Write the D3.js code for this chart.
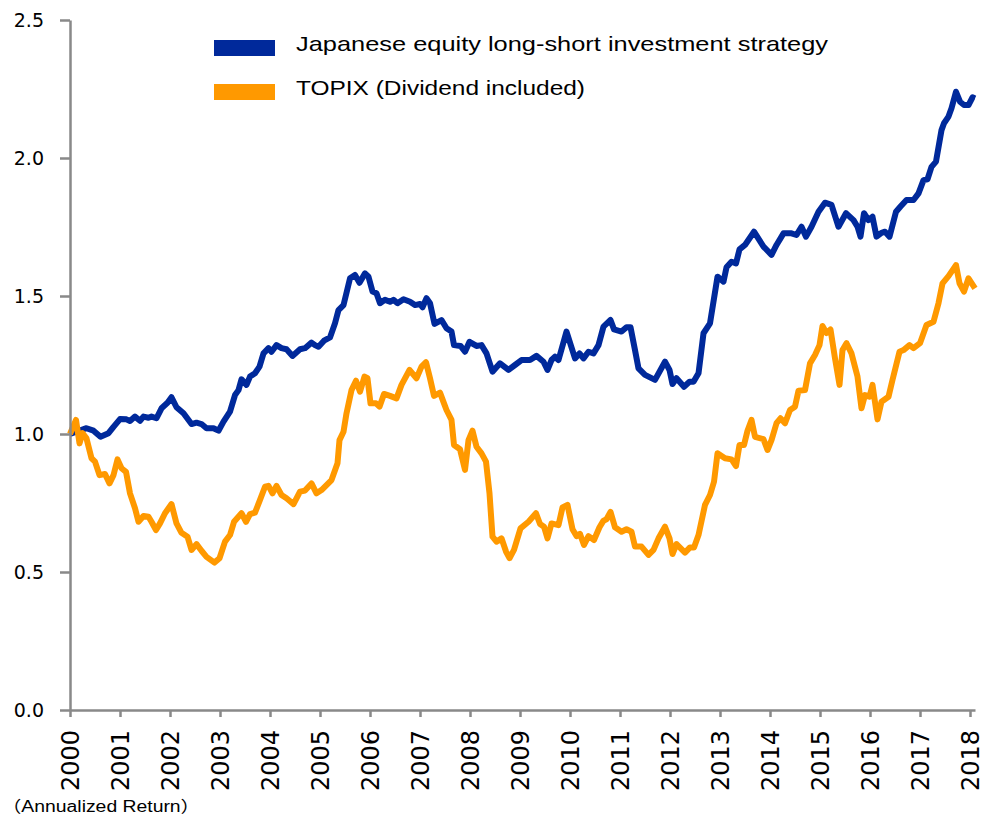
<!DOCTYPE html>
<html>
<head>
<meta charset="utf-8">
<script src="https://cdn.jsdelivr.net/npm/d3@7/dist/d3.min.js"></script>
<style>
    body { margin: 0; background: #fff; }
    .chart text { fill: #000; }
</style>
</head>
<body>
<div class="chart"></div>
<script>
const seriesNames = ['Japanese equity long-short investment strategy', 'TOPIX (Dividend included)']
const yearTicks = [2000, 2001, 2002, 2003, 2004, 2005, 2006, 2007, 2008, 2009,
                   2010, 2011, 2012, 2013, 2014, 2015, 2016, 2017, 2018]
const valueTicks = [0, 0.5, 1.0, 1.5, 2.0, 2.5]
const noteLabel = '（Annualized Return）'

// long-short strategy
const strategyYears = [
    2000.00, 2000.33, 2000.47, 2000.61, 2000.77, 2000.87,
    2001.00, 2001.13, 2001.20, 2001.30, 2001.40, 2001.47, 2001.57, 2001.63, 2001.73, 2001.83, 2001.95,
    2002.03, 2002.13, 2002.27, 2002.43, 2002.53, 2002.63, 2002.73, 2002.87, 2002.97,
    2003.07, 2003.20, 2003.30, 2003.37, 2003.43, 2003.53, 2003.60, 2003.70, 2003.79, 2003.87, 2003.97,
    2004.03, 2004.13, 2004.23, 2004.33, 2004.45, 2004.60, 2004.70, 2004.83, 2004.90, 2004.97,
    2005.08, 2005.20, 2005.30, 2005.37, 2005.47, 2005.60, 2005.70, 2005.79, 2005.90, 2005.97,
    2006.05, 2006.13, 2006.20, 2006.30, 2006.40, 2006.47, 2006.55, 2006.67, 2006.80, 2006.90,
    2007.00, 2007.05, 2007.13, 2007.20, 2007.29, 2007.43, 2007.53, 2007.63, 2007.68, 2007.81, 2007.90, 2007.99,
    2008.13, 2008.23, 2008.33, 2008.45, 2008.60, 2008.77, 2008.90,
    2009.03, 2009.20, 2009.33, 2009.47, 2009.55, 2009.63, 2009.70, 2009.77, 2009.93,
    2010.10, 2010.19, 2010.27, 2010.37, 2010.47, 2010.57, 2010.67, 2010.81, 2010.88,
    2011.03, 2011.13, 2011.21, 2011.30, 2011.37, 2011.50, 2011.70, 2011.90, 2011.99,
    2012.05, 2012.13, 2012.28, 2012.39, 2012.47, 2012.57, 2012.67, 2012.80, 2012.95,
    2013.07, 2013.13, 2013.23, 2013.32, 2013.39, 2013.50, 2013.68, 2013.87,
    2014.03, 2014.13, 2014.27, 2014.43, 2014.53, 2014.63, 2014.72, 2014.83, 2014.97,
    2015.10, 2015.23, 2015.37, 2015.52, 2015.67, 2015.75, 2015.81, 2015.88, 2015.97,
    2016.05, 2016.13, 2016.23, 2016.30, 2016.39, 2016.52, 2016.61, 2016.73, 2016.87, 2016.97,
    2017.07, 2017.15, 2017.23, 2017.32, 2017.43, 2017.48, 2017.57, 2017.63, 2017.72, 2017.80, 2017.88, 2017.97,
    2018.05, 2018.10
]
const strategyValues = [
    1.000, 1.021, 1.012, 0.990, 1.003, 1.026,
    1.054, 1.053, 1.047, 1.063, 1.048, 1.063, 1.059, 1.063, 1.057, 1.093, 1.113,
    1.133, 1.097, 1.075, 1.036, 1.041, 1.036, 1.021, 1.021, 1.012,
    1.045, 1.081, 1.141, 1.159, 1.198, 1.178, 1.208, 1.220, 1.244, 1.292, 1.311,
    1.298, 1.322, 1.311, 1.307, 1.283, 1.307, 1.311, 1.331, 1.322, 1.316,
    1.338, 1.350, 1.401, 1.449, 1.467, 1.564, 1.576, 1.548, 1.582, 1.570,
    1.516, 1.510, 1.474, 1.486, 1.479, 1.486, 1.474, 1.488, 1.479, 1.467,
    1.471, 1.459, 1.492, 1.474, 1.399, 1.413, 1.383, 1.371, 1.322, 1.319, 1.298, 1.334,
    1.319, 1.322, 1.292, 1.226, 1.256, 1.232, 1.250,
    1.268, 1.268, 1.283, 1.262, 1.232, 1.268, 1.280, 1.268, 1.371,
    1.274, 1.292, 1.274, 1.298, 1.292, 1.322, 1.389, 1.413, 1.379,
    1.371, 1.387, 1.387, 1.304, 1.238, 1.214, 1.196, 1.262, 1.232,
    1.181, 1.202, 1.171, 1.189, 1.189, 1.220, 1.365, 1.401, 1.570,
    1.552, 1.604, 1.624, 1.618, 1.669, 1.685, 1.733, 1.679,
    1.649, 1.685, 1.727, 1.727, 1.721, 1.751, 1.715, 1.751, 1.805,
    1.838, 1.830, 1.751, 1.800, 1.775, 1.751, 1.715, 1.800, 1.775,
    1.787, 1.715, 1.729, 1.733, 1.715, 1.805, 1.824, 1.848, 1.848, 1.872,
    1.920, 1.923, 1.968, 1.987, 2.101, 2.126, 2.150, 2.180, 2.240, 2.204, 2.192, 2.192,
    2.220, 2.216
]

// TOPIX with dividends
const topixYears = [
    2000.00, 2000.12, 2000.19, 2000.25, 2000.33, 2000.43, 2000.50, 2000.59, 2000.70, 2000.79, 2000.87, 2000.95,
    2001.03, 2001.12, 2001.20, 2001.30, 2001.37, 2001.47, 2001.57, 2001.63, 2001.72, 2001.80, 2001.90,
    2002.03, 2002.13, 2002.23, 2002.35, 2002.43, 2002.53, 2002.63, 2002.73, 2002.89, 2002.99,
    2003.10, 2003.20, 2003.28, 2003.43, 2003.52, 2003.60, 2003.70, 2003.80, 2003.90, 2003.97,
    2004.05, 2004.13, 2004.23, 2004.33, 2004.47, 2004.60, 2004.70, 2004.83, 2004.93,
    2005.03, 2005.23, 2005.35, 2005.39, 2005.47, 2005.53, 2005.63, 2005.72, 2005.80, 2005.89, 2005.95,
    2006.01, 2006.12, 2006.19, 2006.28, 2006.40, 2006.53, 2006.63, 2006.79, 2006.93,
    2007.03, 2007.12, 2007.20, 2007.28, 2007.40, 2007.48, 2007.53, 2007.63, 2007.68, 2007.80, 2007.90, 2007.97,
    2008.05, 2008.13, 2008.23, 2008.32, 2008.39, 2008.45, 2008.53, 2008.63, 2008.72, 2008.79, 2008.88,
    2009.01, 2009.17, 2009.32, 2009.40, 2009.48, 2009.55, 2009.63, 2009.77, 2009.85, 2009.95,
    2010.05, 2010.13, 2010.20, 2010.28, 2010.37, 2010.48, 2010.59, 2010.67, 2010.73, 2010.81, 2010.90,
    2011.03, 2011.13, 2011.23, 2011.30, 2011.43, 2011.57, 2011.67, 2011.77, 2011.90, 2011.99,
    2012.05, 2012.13, 2012.30, 2012.40, 2012.48, 2012.57, 2012.70, 2012.80, 2012.88, 2012.95,
    2013.10, 2013.23, 2013.32, 2013.39, 2013.48, 2013.55, 2013.63, 2013.70, 2013.87, 2013.95,
    2014.03, 2014.13, 2014.21, 2014.30, 2014.40, 2014.50, 2014.57, 2014.70, 2014.80, 2014.90, 2014.99,
    2015.05, 2015.13, 2015.21, 2015.30, 2015.39, 2015.45, 2015.53, 2015.63, 2015.75, 2015.83, 2015.90, 2015.99,
    2016.05, 2016.15, 2016.23, 2016.37, 2016.45, 2016.59, 2016.67, 2016.79, 2016.87,
    2017.00, 2017.13, 2017.27, 2017.37, 2017.45, 2017.57, 2017.72, 2017.79, 2017.88, 2017.97,
    2018.10
]
const topixValues = [
    1.000, 1.051, 0.966, 1.003, 0.984, 0.912, 0.900, 0.851, 0.855, 0.821, 0.851, 0.908,
    0.876, 0.863, 0.785, 0.731, 0.682, 0.703, 0.700, 0.682, 0.652, 0.676, 0.713,
    0.746, 0.676, 0.642, 0.628, 0.580, 0.601, 0.577, 0.555, 0.534, 0.550,
    0.610, 0.634, 0.682, 0.713, 0.682, 0.710, 0.715, 0.761, 0.809, 0.812,
    0.785, 0.812, 0.779, 0.767, 0.746, 0.791, 0.795, 0.821, 0.785,
    0.797, 0.833, 0.894, 0.978, 1.008, 1.075, 1.159, 1.193, 1.153, 1.208, 1.202,
    1.111, 1.111, 1.099, 1.145, 1.138, 1.129, 1.178, 1.232, 1.202,
    1.244, 1.260, 1.202, 1.138, 1.150, 1.111, 1.087, 1.051, 0.960, 0.945, 0.870, 0.978,
    1.012, 0.954, 0.930, 0.900, 0.785, 0.628, 0.610, 0.622, 0.574, 0.550, 0.580,
    0.658, 0.682, 0.713, 0.674, 0.664, 0.622, 0.676, 0.670, 0.734, 0.743,
    0.655, 0.630, 0.638, 0.598, 0.630, 0.616, 0.662, 0.686, 0.691, 0.718, 0.662,
    0.646, 0.655, 0.646, 0.592, 0.592, 0.562, 0.580, 0.622, 0.664, 0.622,
    0.565, 0.601, 0.570, 0.589, 0.589, 0.634, 0.743, 0.779, 0.827, 0.930,
    0.912, 0.908, 0.884, 0.960, 0.960, 1.012, 1.051, 0.990, 0.981, 0.942,
    0.978, 1.039, 1.057, 1.039, 1.087, 1.099, 1.157, 1.159, 1.256, 1.286, 1.322,
    1.391, 1.366, 1.379, 1.274, 1.178, 1.304, 1.329, 1.292, 1.208, 1.093, 1.141, 1.135,
    1.178, 1.053, 1.117, 1.135, 1.196, 1.298, 1.304, 1.322, 1.311,
    1.329, 1.395, 1.407, 1.474, 1.546, 1.572, 1.612, 1.546, 1.516, 1.564,
    1.528
]

class LineChart {

    constructor() {
        this.fullWidth = 986
        this.fullHeight = 815
        this.margin = {top: 20, right: 11, bottom: 105, left: 70}
        this.width = this.fullWidth - this.margin.left - this.margin.right
        this.height = this.fullHeight - this.margin.top - this.margin.bottom
        this.colors = ['#00299b', '#ff9900']
        this.axisColor = '#898989'
        this.series = [
            d3.zip(strategyYears, strategyValues),
            d3.zip(topixYears, topixValues)
        ]
    }

    render() {
        this.svg = d3.select('.chart')
            .append('svg')
            .attr('width', this.fullWidth)
            .attr('height', this.fullHeight)
        this.canvas = this.svg.append('g')
            .attr('transform', `translate(${this.margin.left}, ${this.margin.top})`)
        this.createScales()
        this.createLines()
        this.createAxes()
        this.createLegend()
        this.createNote()
    }

    createScales() {
        this.xScale = d3.scaleLinear()
            .domain([2000, 2018.1])
            .range([0, this.width])
        this.yScale = d3.scaleLinear()
            .domain([0, 2.5])
            .range([this.height, 0])
    }

    createLines() {
        let line = d3.line()
            .x(d => this.xScale(d[0]))
            .y(d => this.yScale(d[1]))

        this.canvas.selectAll('.series')
            .data(this.series)
            .join('path')
                .attr('class', 'series')
                .attr('d', line)
                .attr('fill', 'none')
                .attr('stroke', (d, i) => this.colors[i])
                .attr('stroke-width', 6)
                .attr('stroke-linejoin', 'round')
    }

    createAxes() {
        let xAxis = d3.axisBottom(this.xScale)
            .tickValues(yearTicks)
            .tickFormat(d3.format('d'))
            .tickSize(7)
            .tickSizeOuter(0)
        let gx = this.canvas.append('g')
            .attr('transform', `translate(0, ${this.height})`)
            .call(xAxis)
        gx.selectAll('text')
            .attr('transform', 'rotate(-90)')
            .attr('text-anchor', 'end')
            .attr('x', -20)
            .attr('y', 0)
            .attr('dy', '0.36em')
            .style('font', '24px "DejaVu Sans", sans-serif')

        let yAxis = d3.axisLeft(this.yScale)
            .tickValues(valueTicks)
            .tickFormat(d3.format('.1f'))
            .tickSize(10)
            .tickPadding(16)
            .tickSizeOuter(0)
        let gy = this.canvas.append('g')
            .call(yAxis)
        gy.selectAll('text')
            .style('font', '19px "DejaVu Sans", sans-serif')

        this.canvas.selectAll('.domain, .tick line')
            .attr('stroke', this.axisColor)
            .attr('stroke-width', 2.5)
    }

    createLegend() {
        let widths = [532, 289]
        let items = this.svg.append('g')
            .selectAll('g')
            .data(seriesNames)
            .join('g')
                .attr('transform', (d, i) => `translate(214, ${40 + i * 44})`)

        items.append('rect')
            .attr('width', 61)
            .attr('height', 16)
            .attr('fill', (d, i) => this.colors[i])

        items.append('text')
            .attr('x', 82)
            .attr('y', 11)
            .attr('textLength', (d, i) => widths[i])
            .attr('lengthAdjust', 'spacingAndGlyphs')
            .style('font', '21px "Liberation Sans", Arial, sans-serif')
            .text(d => d)
    }

    createNote() {
        // full-width brackets carry blank space inside their em box
        this.svg.append('text')
            .attr('x', 2)
            .attr('y', 812)
            .attr('textLength', 198)
            .attr('lengthAdjust', 'spacingAndGlyphs')
            .style('font', '16px "Liberation Sans", "Noto Sans CJK JP", sans-serif')
            .text(noteLabel)
    }

}

new LineChart().render()
</script>
</body>
</html>
